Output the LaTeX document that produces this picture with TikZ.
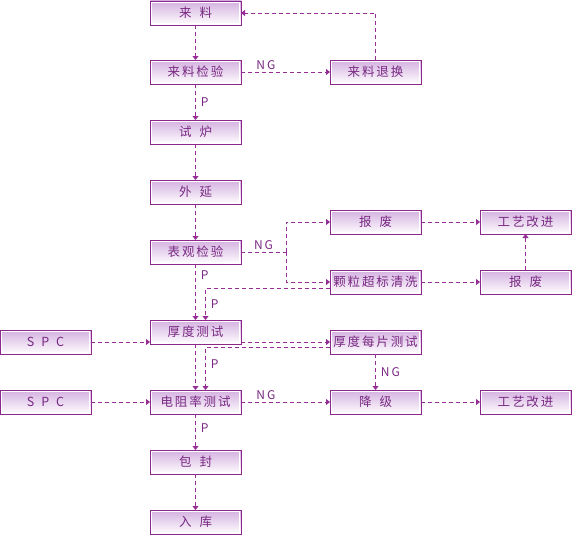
\documentclass[tikz,border=0pt]{standalone}
\usepackage{fontspec}
\setmainfont{Noto Sans CJK SC}[LetterSpace=15]
\usetikzlibrary{
  arrows.meta,
  positioning,
  calc
}
\definecolor{boxline}{RGB}{140, 40, 140}
\definecolor{boxtop}{RGB}{212, 176, 224}
\definecolor{labelcolor}{RGB}{120, 40, 130}
\definecolor{arrowcolor}{RGB}{150, 45, 150}
\tikzset{
procbox/.style={
  rectangle,
  draw=boxline,
  line width=0.9pt,
  outer sep=0pt,
  top color=boxtop,
  bottom color=white,
  minimum width=91pt,
  minimum height=24pt,
  inner sep=0pt,
  align=center,
  font=\fontsize{12.5}{14}\selectfont,
  text=labelcolor,
  path picture={
    \draw[white, line width=0.8pt]
      ([shift={(1.5pt,-1.5pt)}]path picture bounding box.north west) rectangle
      ([shift={(-1.5pt,1.5pt)}]path picture bounding box.south east);
  }
},
flowlabel/.style={
  font=\fontsize{12}{14}\selectfont,
  text=labelcolor,
  inner sep=2pt
},
flowarrow/.style={
  -{Triangle[length=4pt,width=6pt]},
  line width=0.9pt,
  draw=arrowcolor,
  dash pattern=on 4pt off 3pt
},
flowline/.style={
  line width=0.9pt,
  draw=arrowcolor,
  dash pattern=on 4pt off 3pt
}
}
\newcommand{\gap}{\hspace{8pt}}
\newcommand{\nglabel}{N\hspace{2pt}G}

\begin{document}
\begin{tikzpicture}[x=1pt, y=-1pt]
  \useasboundingbox (0,0) rectangle (572,535);

  % main column
  \node[procbox] (lai) at (195.5,13) {来\gap 料};
  \node[procbox, below=35pt of lai] (laijy) {来料检验};
  \node[procbox, below=36pt of laijy] (shilu) {试\gap 炉};
  \node[procbox, below=36pt of shilu] (waiyan) {外\gap 延};
  \node[procbox, below=36pt of waiyan] (biaoguan) {表观检验};
  \node[procbox, below=56pt of biaoguan] (houdu) {厚度测试};
  \node[procbox, below=46pt of houdu] (dianzu) {电阻率测试};
  \node[procbox, below=36pt of dianzu] (baofeng) {包\gap 封};
  \node[procbox, below=36pt of baofeng] (ruku) {入\gap 库};

  % middle column
  \node[procbox, right=89pt of laijy] (tuihuan) {来料退换};
  \node[procbox, right=89pt of biaoguan, yshift=30pt] (baofeiA) {报\gap 废};
  \node[procbox, right=89pt of biaoguan, yshift=-30pt] (keli) {颗粒超标清洗};
  \node[procbox, right=89pt of houdu, yshift=-10pt] (houdumei) {厚度每片测试};
  \node[procbox, right=89pt of dianzu] (jiangji) {降\gap 级};

  % right column
  \node[procbox, right=59pt of baofeiA] (gongyiA) {工艺改进};
  \node[procbox, right=59pt of keli] (baofeiB) {报\gap 废};
  \node[procbox, right=59pt of jiangji] (gongyiB) {工艺改进};

  % SPC
  \node[procbox, left=59pt of houdu, yshift=-10pt] (spcA) {S\hspace{7pt}P\hspace{7pt}C};
  \node[procbox, left=59pt of dianzu] (spcB) {S\hspace{7pt}P\hspace{7pt}C};

  % main flow
  \draw[flowarrow] (lai) -- (laijy);
  \draw[flowarrow] (laijy) -- node[flowlabel, right, xshift=3pt] {P} (shilu);
  \draw[flowarrow] (shilu) -- (waiyan);
  \draw[flowarrow] (waiyan) -- (biaoguan);
  \draw[flowarrow] (biaoguan) -- node[flowlabel, right, xshift=3pt, pos=0.2] {P} (houdu);
  \draw[flowarrow] (houdu) -- (dianzu);
  \draw[flowarrow] (dianzu) -- node[flowlabel, right, xshift=3pt, pos=0.4] {P} (baofeng);
  \draw[flowarrow] (baofeng) -- (ruku);

  % incoming check
  \draw[flowarrow] (laijy) -- node[flowlabel, above, pos=0.28] {\nglabel} (tuihuan);
  \draw[flowarrow] (tuihuan.north) |- (lai.east);

  % surface check
  \coordinate (split) at ($(biaoguan.east)+(45,0)$);
  \draw[flowline] (biaoguan.east) -- node[flowlabel, above] {\nglabel} (split);
  \draw[flowarrow] (split) |- (baofeiA.west);
  \draw[flowarrow] (split) |- (keli.west);
  \draw[flowarrow] (baofeiA) -- (gongyiA);
  \draw[flowarrow] (keli) -- (baofeiB);
  \draw[flowarrow] (baofeiB) -- (gongyiA);
  \draw[flowarrow] ([yshift=-6pt]keli.west) -| node[flowlabel, right, xshift=3pt, pos=0.75] {P} ([xshift=10pt]houdu.north);

  % thickness and resistivity
  \draw[flowarrow] (spcA.east) -- (spcA.east -| houdu.west);
  \draw[flowarrow] (houdumei.west -| houdu.east) -- (houdumei.west);
  \draw[flowarrow] ([yshift=-5pt]houdumei.west) -| node[flowlabel, right, xshift=3pt, pos=0.7] {P} ([xshift=10pt]dianzu.north);
  \draw[flowarrow] (houdumei) -- node[flowlabel, right, xshift=3pt] {\nglabel} (jiangji);
  \draw[flowarrow] (spcB) -- (dianzu);
  \draw[flowarrow] (dianzu) -- node[flowlabel, above, pos=0.28] {\nglabel} (jiangji);
  \draw[flowarrow] (jiangji) -- (gongyiB);

\end{tikzpicture}
\end{document}
